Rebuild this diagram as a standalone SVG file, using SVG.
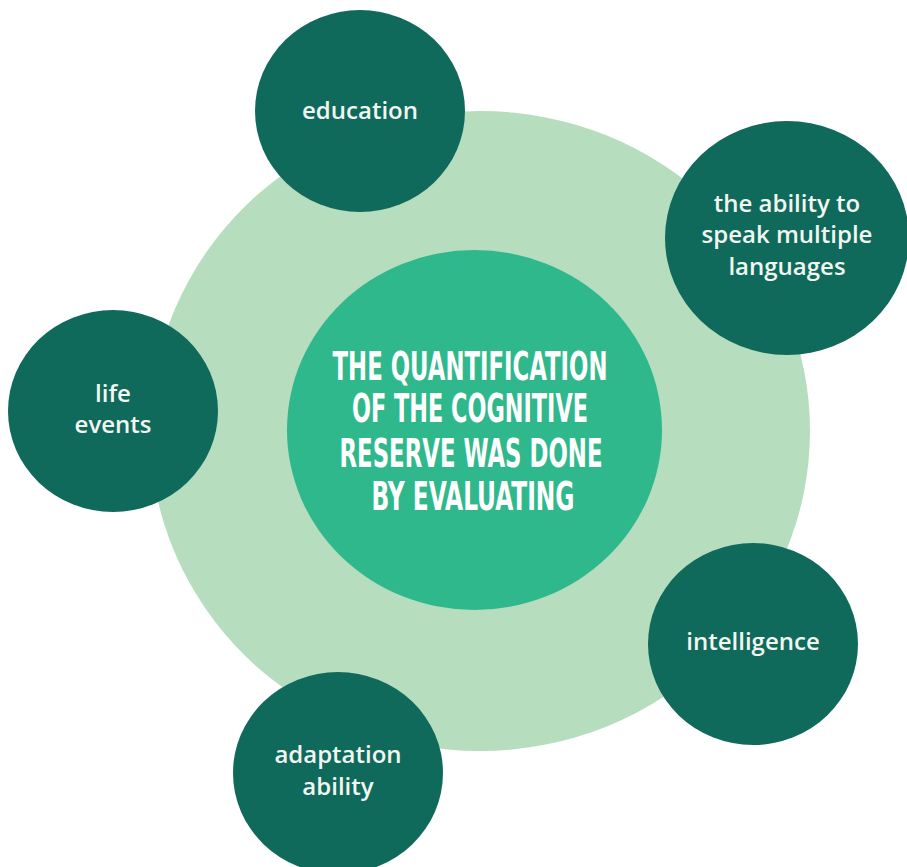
<svg xmlns="http://www.w3.org/2000/svg" width="907" height="867" viewBox="0 0 907 867">
  <style>
    .halo { fill: #b5ddbe; }
    .hub { fill: #2fb88b; }
    .leaf { fill: #0f6a5b; }
    .leaf-label { font-family: "Open Sans", "Noto Sans", sans-serif; font-size: 24px; font-weight: 600; fill: #f2f6f1; text-anchor: middle; }
    .hub-label { font-family: "DejaVu Sans Condensed", "Liberation Sans Narrow", "DejaVu Sans", sans-serif; font-stretch: condensed; font-size: 39px; font-weight: bold; fill: #ffffff; text-anchor: middle; }
  </style>
  <rect width="907" height="867" fill="#ffffff"/>

  <!-- background ring -->
  <g id="halo">
    <ellipse class="halo" cx="480" cy="431" rx="330" ry="320"/>
  </g>

  <!-- central statement -->
  <g id="hub">
    <ellipse class="hub" cx="474.5" cy="430" rx="187.5" ry="180"/>
    <text class="hub-label" x="470" y="380" textLength="275" lengthAdjust="spacingAndGlyphs">THE QUANTIFICATION</text>
    <text class="hub-label" x="470" y="422" textLength="236" lengthAdjust="spacingAndGlyphs">OF THE COGNITIVE</text>
    <text class="hub-label" x="471" y="467" textLength="263" lengthAdjust="spacingAndGlyphs">RESERVE WAS DONE</text>
    <text class="hub-label" x="473" y="510" textLength="203" lengthAdjust="spacingAndGlyphs">BY EVALUATING</text>
  </g>

  <!-- evaluated factors -->
  <g id="education">
    <ellipse class="leaf" cx="360" cy="111" rx="105" ry="101"/>
    <text class="leaf-label" x="360" y="119">education</text>
  </g>

  <g id="languages">
    <ellipse class="leaf" cx="787" cy="238" rx="122" ry="117"/>
    <text class="leaf-label" x="787" y="212">the ability to</text>
    <text class="leaf-label" x="787" y="243">speak multiple</text>
    <text class="leaf-label" x="787" y="275">languages</text>
  </g>

  <g id="life-events">
    <ellipse class="leaf" cx="113" cy="411" rx="105" ry="101"/>
    <text class="leaf-label" x="113" y="402">life</text>
    <text class="leaf-label" x="113" y="433">events</text>
  </g>

  <g id="intelligence">
    <ellipse class="leaf" cx="753" cy="644" rx="105" ry="101"/>
    <text class="leaf-label" x="753" y="650">intelligence</text>
  </g>

  <g id="adaptation">
    <ellipse class="leaf" cx="338" cy="773" rx="105" ry="101"/>
    <text class="leaf-label" x="338" y="763">adaptation</text>
    <text class="leaf-label" x="338" y="795">ability</text>
  </g>
</svg>
